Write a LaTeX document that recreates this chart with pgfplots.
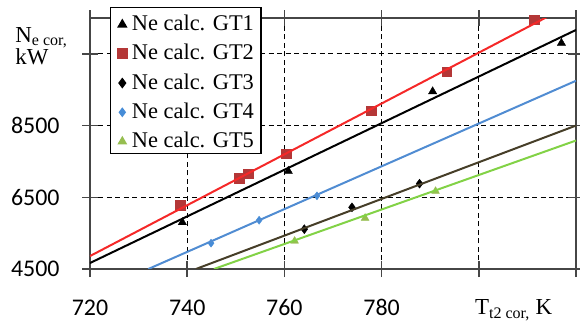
\documentclass[border=0pt]{standalone}
\usepackage{fontspec}
\setmainfont{Liberation Serif}
\newfontfamily\tickfont{Carlito}
\usepackage{pgfplots}
\pgfplotsset{compat=1.18}
\definecolor{redline}{RGB}{245,40,40}
\definecolor{redmark}{RGB}{180,55,55}
\definecolor{blueline}{RGB}{80,140,210}
\definecolor{bluemark}{RGB}{70,140,215}
\definecolor{oliveline}{RGB}{70,62,40}
\definecolor{greenline}{RGB}{130,210,70}
\definecolor{greenmark}{RGB}{150,190,80}
\definecolor{axisgray}{RGB}{70,70,70}
\begin{document}
\begin{tikzpicture}
\useasboundingbox (-90bp,-55bp) rectangle (490bp,269bp);
\begin{axis}[
  scale only axis, width=486bp, height=251bp,
  xmin=720, xmax=820, ymin=4500, ymax=11500,
  scaled y ticks=false, scaled x ticks=false,
  xtick={720,740,760,780,800,820}, xticklabels={720,740,760,780,{},{}},
  ytick={4500,6500,8500,10500}, yticklabels={4500,6500,8500,{}},
  tick align=center, major tick length=16bp,
  grid=major, major grid style={black, dash pattern=on 5bp off 3.5bp, line width=1.2bp},
  axis line style={axisgray, line width=1.5bp},
  tick style={axisgray, line width=1.5bp},
  ticklabel style={font=\tickfont\fontsize{24}{26}\selectfont},
  xticklabel style={yshift=-19bp},
  yticklabel style={xshift=-19bp},
  /pgf/number format/assume math mode=true,
  clip mode=individual,
  legend style={at={(rel axis cs:0.041,1.044)}, anchor=north west, draw=black, line width=1.2bp,
    fill=white, font=\fontsize{22.5}{24}\selectfont, inner xsep=7bp, inner ysep=6bp,
    nodes={inner sep=0bp, text height=17bp, text depth=0bp}, row sep=12.25bp, column sep=0bp},
  legend cell align=left,
  legend image code/.code={\draw[#1] plot coordinates {(4bp,-2.5bp)};\path (0bp,0bp) (13bp,0bp);},
]
\addplot[only marks, mark=triangle*, mark size=4.8bp, black] coordinates {
  (739,5800) (760.8,7230) (790.5,9450) (817,10800)};
\addlegendentry{Ne calc. GT1}
\addplot[only marks, mark=square*, mark size=4.8bp, redmark] coordinates {
  (738.5,6280) (750.7,7030) (752.5,7160) (760.4,7720) (777.8,8920) (793.4,10000) (811.4,11450)};
\addlegendentry{Ne calc. GT2}
\addplot[only marks, mark=diamond*, mark size=4.5bp, black] coordinates {
  (764.1,5610) (773.9,6220) (787.8,6880)};
\addlegendentry{Ne calc. GT3}
\addplot[only marks, mark=diamond*, mark size=4bp, bluemark] coordinates {
  (744.9,5220) (754.8,5860) (766.7,6540)};
\addlegendentry{Ne calc. GT4}
\addplot[only marks, mark=triangle*, mark size=4.5bp, greenmark] coordinates {
  (762.1,5280) (776.6,5920) (791.1,6670)};
\addlegendentry{Ne calc. GT5}
\addplot[forget plot, no marks, redline, line width=2bp] coordinates {(720,4861) (820,11951)};
\addplot[forget plot, no marks, black, line width=2bp] coordinates {(720,4667) (820,11167)};
\addplot[forget plot, no marks, blueline, line width=2bp] coordinates {(732,4500) (820,9750)};
\addplot[forget plot, no marks, oliveline, line width=2bp] coordinates {(741.8,4500) (820,8500)};
\addplot[forget plot, no marks, greenline, line width=2bp] coordinates {(745.5,4500) (820,8083)};
\node[anchor=base west, inner sep=0pt, align=left, font=\fontsize{23}{23}\selectfont]
  at (rel axis cs:-0.154,0.813) {N\textsubscript{e cor,}\\kW};
\node[anchor=base west, inner sep=0pt, font=\fontsize{23}{23}\selectfont]
  at (rel axis cs:0.792,-0.183) {T\textsubscript{t2 cor,} K};
\end{axis}
\end{tikzpicture}
\end{document}
